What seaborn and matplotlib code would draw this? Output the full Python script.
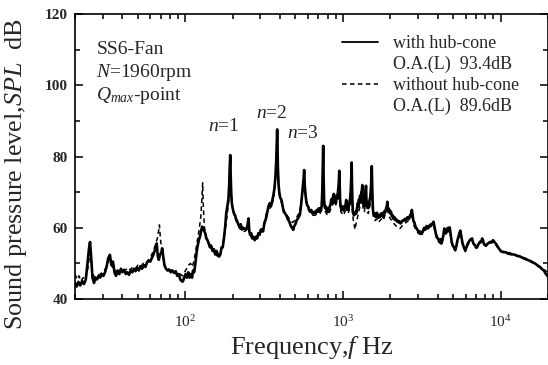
import numpy as np
import pandas as pd
import matplotlib
matplotlib.use("Agg")
import matplotlib.pyplot as plt
import seaborn as sns
from matplotlib.lines import Line2D
from matplotlib.ticker import LogLocator, MultipleLocator, NullFormatter

# ---------------- data ----------------
freq_with = [20, 20.5, 21, 21.6, 22.2, 22.8, 23.4, 24.0, 24.5, 24.9, 25.3, 25.8, 26.4, 27.0, 27.6, 28.2,
             28.9, 29.6, 30.3, 31.0, 31.7, 32.5, 33.3, 34.0, 34.8, 35.6, 36.4, 37.3, 38.2, 39.1, 40.0,
             41.0, 42.0, 43.0, 44.0, 45.1, 46.2, 47.3, 48.4, 49.6, 50.8, 52.0, 53.3, 54.6, 55.9, 57.2,
             58.6, 60.0, 61.4, 62.9, 64.0, 65.0, 66.0, 67.0, 68.0, 69.2, 70.5, 71.5, 72.5, 73.8, 75.5,
             77.3, 79.2, 81.0, 83.0, 85.0, 87.0, 89.0, 91.0, 93.0, 95.0, 96.6, 98.5, 100.5, 102.5, 104.5,
             106.5, 108.5, 110.5, 112, 114, 116, 118, 120, 122, 124, 126, 128, 130, 132, 134, 136, 138.5,
             141, 143.5, 146, 149, 152, 155, 158, 161, 164, 167, 170, 173, 176, 179, 182, 185, 188, 190,
             191.5, 193, 194.5, 196, 198, 201, 204, 207, 210, 213, 217, 221, 225, 229, 233, 237, 241, 244,
             248, 252, 255, 258, 262, 266, 270, 276, 281, 286, 291, 296, 302, 307, 312, 317, 322, 327, 332,
             337, 344, 350, 356, 362, 368, 373, 378, 383, 387, 391, 395, 400, 408, 415, 422, 430, 438, 446,
             454, 461, 468, 476, 484, 492, 500, 508, 516, 525, 534, 542, 550, 558, 564, 568, 573, 580, 588,
             596, 603, 612, 621, 630, 640, 649, 660, 672, 684, 695, 705, 715, 725, 733, 740, 745, 750, 755,
             760, 766, 772, 780, 788, 796, 805, 815, 825, 835, 845, 855, 862, 869, 876, 884, 892, 900, 910,
             920, 930, 940, 945, 949, 954, 960, 967, 974, 982, 990, 1000, 1010, 1020, 1030, 1040, 1050,
             1060, 1070, 1080, 1090, 1100, 1110, 1120, 1130, 1137, 1143, 1150, 1158, 1167, 1176, 1186,
             1195, 1205, 1215, 1225, 1235, 1245, 1255, 1265, 1275, 1285, 1300, 1310, 1320, 1328, 1335,
             1345, 1355, 1365, 1375, 1385, 1395, 1402, 1410, 1420, 1430, 1440, 1450, 1460, 1470, 1480,
             1490, 1500, 1510, 1518, 1525, 1533, 1542, 1552, 1563, 1575, 1587, 1600, 1615, 1630, 1645,
             1660, 1680, 1700, 1720, 1740, 1760, 1780, 1800, 1820, 1840, 1860, 1880, 1900, 1914, 1928,
             1945, 1962, 1980, 2000, 2020, 2045, 2070, 2095, 2120, 2143, 2170, 2200, 2230, 2260, 2290,
             2320, 2350, 2390, 2430, 2470, 2510, 2550, 2590, 2630, 2670, 2710, 2740, 2770, 2800, 2840,
             2880, 2920, 2960, 3020, 3070, 3120, 3170, 3220, 3280, 3340, 3400, 3460, 3520, 3580, 3640,
             3700, 3758, 3820, 3880, 3940, 4000, 4045, 4100, 4160, 4220, 4280, 4340, 4397, 4460, 4520,
             4580, 4640, 4700, 4760, 4830, 4900, 4980, 5060, 5170, 5250, 5330, 5410, 5480, 5560, 5640,
             5720, 5800, 5890, 5980, 6080, 6180, 6280, 6380, 6480, 6600, 6700, 6820, 6920, 7020, 7100,
             7220, 7340, 7460, 7560, 7640, 7740, 7850, 7960, 8080, 8200, 8320, 8440, 8560, 8700, 8830,
             8960, 9060, 9200, 9350, 9500, 9650, 9820, 10000, 10200, 10500, 10800, 11100, 11400, 11700,
             12000, 12400, 12800, 13200, 13600, 14000, 14400, 14800, 15200, 15600, 16000, 16500, 17000,
             17500, 18000, 18400, 18800, 19200, 19600, 20000]
spl_with = [44.5, 43.5, 44.8, 43.8, 45, 44.2, 45.5, 50, 54, 56, 52, 46, 44.5, 46, 45.5, 46.5,
            46, 47, 46.5, 47.5, 49, 51.5, 52.4, 49.5, 50.5, 47.5, 46.5, 48, 47, 48.5, 47.5,
            48.2, 47, 47.5, 46.8, 48, 47.5, 48.5, 47.8, 48.8, 48, 49.2, 48.5, 49.5, 49, 50.2,
            50.8, 50.5, 51.5, 52.5, 53.5, 54.5, 55.6, 52, 51, 52.5, 53, 54.2, 52, 49.5, 48.5,
            48, 48.2, 47.5, 48, 47.3, 47.8, 46.5, 47, 45.5, 45, 44.9, 46, 47, 46, 47.5,
            46, 47, 46, 48, 47.5, 50, 53, 55, 56.5, 57.5, 59, 60.3, 60, 59, 58.5, 57, 56.5,
            55.6, 54.5, 55, 53.5, 54, 52.5, 53.5, 52.5, 51.9, 52.5, 54.5, 54.5, 57, 60, 64, 66, 68, 72,
            77, 80.4, 74, 69, 66.5, 65, 64, 63.5, 62.5, 62, 61, 60.3, 61, 59.5, 60, 59.8, 59.5, 59.5,
            60.5, 62.6, 59, 58, 58.5, 57, 57.5, 56.5, 57.5, 57, 58.5, 58, 59.5, 59, 59, 61, 62, 63, 64.5,
            66, 66.9, 66, 67.5, 69, 71, 74, 79, 87.6, 77, 72, 70, 68.5, 67.8, 66, 64.5, 64, 63.5, 62.5,
            62, 61.2, 60.5, 60, 59.4, 60.5, 61, 62, 62.5, 63, 63.7, 66, 69, 72, 74, 76.2, 72, 69, 67,
            66.2, 65.9, 65, 64.5, 65, 64, 64, 64.5, 64, 65, 64.5, 65.5, 64.5, 65, 66, 70, 76, 83, 74,
            68, 66, 65.5, 66, 65, 64.5, 65.5, 64.5, 66, 66.5, 68, 67, 68.5, 68.7, 69.5, 68, 67, 68, 69,
            68, 70, 72, 74, 76, 72, 68, 66, 65.5, 65, 66, 65.5, 64.8, 66, 65.5, 66.5, 67.8,
            66, 65.5, 65, 66, 67, 68, 70, 74, 78.3, 72, 67, 64.5, 64, 63.5, 64,
            63.8, 64.5, 64, 65, 66, 67, 66, 68, 67, 69, 68, 70, 70.5, 72, 69,
            67, 68, 66, 67, 69, 70.5, 71.8, 68, 66, 67, 66, 65.5, 66, 67, 68,
            68.5, 70, 72, 75, 77.3, 73, 68, 65, 64, 63.5, 64, 64, 63, 63.5, 64.2,
            63.5, 62.8, 63.5, 63, 64, 63.5, 64, 63, 64.5, 64, 64.5, 65.5, 66, 67.3, 65,
            65.5, 64.5, 65, 64, 64.5, 63.2, 63.5, 62.5, 63, 62.2, 62.5, 61.8, 62, 61.5, 61.8,
            61.2, 61.5, 62, 62, 62.5, 62, 62.8, 63, 62.5, 63.5, 64, 65, 63.5, 62, 61.5,
            60.5, 60, 59.5, 58.9, 59, 58.5, 58.3, 59.2, 60, 59.5, 60.5, 59.8, 60.5, 60.8, 61,
            61.2, 61.7, 60, 58.5, 57.5, 57, 56.6, 56, 56.8, 55.6, 56.5, 58, 59.8, 59, 58.5,
            59.5, 60, 59, 60.1, 58, 56, 55, 54.5, 53.8, 55, 56.5, 57.5, 58.5, 59.2, 57.5,
            56, 55, 54.2, 53.6, 54.5, 55.5, 56, 56.5, 56.8, 57, 55.8, 55.2, 55, 54.5, 54.5,
            55.3, 55.8, 56.2, 56, 57, 56.5, 55.5, 55.2, 55, 55.3, 55.6, 55.8, 56, 56, 56.1,
            56.5, 56.3, 55.8, 55.5, 55, 54.5, 54, 53.6, 53.3, 53.2, 53.1, 52.8, 52.9, 52.6,
            52.5, 52.4, 52.1, 52, 51.7, 51.5, 51.3, 51, 50.8, 50.6, 50.3, 50, 49.6,
            49.2, 48.8, 48.3, 48.1, 47.3, 46.8, 46.3]

freq_without = [20, 20.6, 21.2, 21.8, 22.5, 23.2, 24.0, 24.9, 25.8, 26.8, 27.8, 28.9, 30.0, 31.2, 32.4,
                33.3, 34.5, 35.8, 37.2, 38.6, 40.0, 41.6, 43.2, 44.8, 46.5, 48.3, 50.2, 52.1, 54.1, 56.2,
                58.4, 60.6, 62.9, 65.0, 66.5, 67.7, 68.6, 69.6, 70.8, 72.0, 73.5, 75.5, 78, 81, 84, 87,
                90, 93, 96, 99, 102, 105, 108, 111, 114, 117, 120, 123, 125.5, 127.5, 129, 130.5, 132.5,
                135, 138, 142, 146, 150, 155, 160, 165, 170, 175, 180, 185, 189, 193, 196, 200, 206, 212,
                220, 230, 240, 248, 252, 256, 265, 275, 285, 295, 305, 315, 325, 335, 345, 355, 365, 375,
                383, 388, 395, 405, 420, 435, 450, 465, 480, 495, 510, 525, 540, 555, 568, 578, 590, 605,
                625, 645, 665, 690, 715, 735, 750, 760, 775, 800, 825, 850, 870, 895, 920, 940, 949, 958,
                970, 990, 1010, 1030, 1050, 1070, 1090, 1110, 1137, 1150, 1170, 1195, 1215, 1240, 1265,
                1290, 1310, 1328, 1345, 1370, 1385, 1402, 1420, 1450, 1480, 1505, 1525, 1545, 1570, 1600,
                1640, 1680, 1720, 1760, 1800, 1850, 1890, 1914, 1950, 2000, 2060, 2120, 2180, 2240, 2306,
                2370, 2440, 2520, 2600, 2680, 2740, 2800, 2900, 3000, 3120, 3240, 3380, 3520, 3650, 3758,
                3900, 4045, 4200, 4300, 4397, 4520, 4640, 4760, 4900, 5060, 5170, 5330, 5480, 5560, 5720,
                5890, 5980, 6180, 6380, 6600, 6820, 7020, 7220, 7460, 7640, 7850, 8080, 8320, 8560, 8830,
                9060, 9350, 9650, 10000, 10500, 11100, 11700, 12400, 13200, 14000, 14800, 15600, 16500,
                17500, 18400, 19200, 20000]
spl_without = [47, 45.5, 46.5, 45, 46, 45.5, 48, 53, 47, 46, 46.5, 47, 47.5, 48.5, 50.5,
               51, 49, 47.5, 48.5, 47.5, 48.5, 48, 48.8, 48.2, 49, 48.6, 49.5, 49, 50, 49.8,
               51, 52, 53.5, 55.5, 57, 59, 60.8, 57, 54, 53, 50, 48.5, 48.5, 48, 48.3, 47.5,
               46.5, 47, 46.5, 47.5, 48.5, 49.5, 50, 49, 51, 54, 57, 60, 63, 68, 72.6, 65, 60,
               58, 56.5, 55, 54.5, 53.5, 52.8, 52, 52.5, 54, 56.5, 60, 64, 68, 79, 70, 65, 63, 61.5,
               60, 59, 59, 60, 61.5, 58.5, 57, 56.8, 57.5, 58.5, 59.5, 61, 63.5, 65.5, 65.5, 66.5, 68.5, 75,
               86, 75, 69.5, 67.5, 65, 64, 63, 62, 61.5, 62, 63, 64, 66, 70, 74, 70, 66.5, 65,
               64, 63.5, 63.5, 64, 64, 65, 81, 67, 64.5, 63.5, 64.5, 66, 67, 66, 67.5, 71, 74.5, 67,
               64.5, 64, 63.5, 64.5, 66, 64, 64.5, 66, 77, 64, 61.5, 59.5, 61.5, 63, 65,
               66, 67, 70, 65, 64.5, 67, 70, 64.5, 64, 66, 68, 75, 65, 62.5, 62,
               62.5, 61.5, 62, 62.5, 62, 63.5, 64.5, 66, 63.5, 62.5, 62, 61, 60.5, 60, 59.8,
               60.5, 61, 61.5, 62, 62.5, 64, 61, 59.5, 58.5, 58, 59, 59.8, 60, 60.5, 61,
               57.5, 56, 55.5, 56.5, 59, 58, 59.5, 59.5, 55.5, 54, 53.5, 56, 58, 58.8, 55.5,
               54, 53.3, 55, 56, 56.5, 54.8, 54.2, 55, 55.8, 56.5, 55.2, 54.8, 55.3, 55.7, 55.8,
               56, 55.2, 54.2, 53.3, 53, 52.6, 52.4, 52.2, 51.8, 51.3, 50.8, 50.4, 49.8,
               49, 48.5, 48, 47.5]

legend_labels = ["with hub-cone", "O.A.(L)  93.4dB", "without hub-cone", "O.A.(L)  89.6dB"]
info_lines = ["SS6-Fan", "$N$=1960rpm", "$Q_{max}$-point"]
harmonic_labels = ["$n$=1", "$n$=2", "$n$=3"]
y_ticks = [40, 60, 80, 100, 120]
x_limits = (20, 20000)

df_with = pd.DataFrame({"f": freq_with, "spl": spl_with})
df_without = pd.DataFrame({"f": freq_without, "spl": spl_without})

# ---------------- style ----------------
sns.set_theme(style="ticks")
plt.rcParams["font.family"] = ["Liberation Serif", "DejaVu Serif"]
plt.rcParams["mathtext.fontset"] = "custom"
plt.rcParams["mathtext.rm"] = "Liberation Serif"
plt.rcParams["mathtext.it"] = "Liberation Serif:italic"
plt.rcParams["mathtext.bf"] = "Liberation Serif:bold"

fig = plt.figure(figsize=(5.48, 3.65), dpi=100)
ax = fig.add_axes([0.1369, 0.1808, 0.8631, 0.7808])

sns.lineplot(data=df_without, x="f", y="spl", ax=ax, color="black", lw=1.1,
             estimator=None, sort=True, dashes=False)
ax.lines[-1].set_dashes([3.0, 2.2])
sns.lineplot(data=df_with, x="f", y="spl", ax=ax, color="black", lw=1.9,
             estimator=None, sort=True)

ax.set_xscale("log")
ax.set_xlim(*x_limits)
ax.set_ylim(40, 120)
ax.set_yticks(y_ticks)
ax.yaxis.set_minor_locator(MultipleLocator(10))
ax.xaxis.set_major_locator(LogLocator(base=10))
ax.xaxis.set_minor_locator(LogLocator(base=10, subs=np.arange(2, 10)))
ax.xaxis.set_minor_formatter(NullFormatter())

ax.tick_params(which="both", direction="in", top=True, right=True, color="black", width=1.1)
ax.tick_params(which="major", length=6)
ax.tick_params(which="minor", length=3.5)
ax.tick_params(axis="y", labelsize=11, pad=5)
ax.tick_params(axis="x", labelsize=11, pad=11)
for lab in ax.get_yticklabels():
    lab.set_fontweight("bold")
for sp in ax.spines.values():
    sp.set_linewidth(1.2)
    sp.set_color("black")

ax.set_xlabel("Frequency,$f$ Hz", fontsize=19, labelpad=3)
ax.set_ylabel("Sound pressure level,$SPL$  dB", fontsize=18.8)
ax.yaxis.set_label_coords(-0.098, 0.44)

# info text
for txt, yy in zip(info_lines, [0.877, 0.796, 0.714]):
    ax.text(0.045, yy, txt, transform=ax.transAxes, fontsize=14, ha="left", va="center")

for txt, (xx, yy) in zip(harmonic_labels, [(0.315, 0.605), (0.416, 0.652), (0.482, 0.582)]):
    ax.text(xx, yy, txt, transform=ax.transAxes, fontsize=14, ha="center", va="center")

handles = [Line2D([], [], color="black", lw=1.3),
           Line2D([], [], color="none"),
           Line2D([], [], color="black", lw=1.1, dashes=[3.0, 2.2]),
           Line2D([], [], color="none")]
ax.legend(handles, legend_labels, loc="upper left", bbox_to_anchor=(0.564, 0.925),
          frameon=False, fontsize=13, handlelength=2.0, handletextpad=0.85,
          labelspacing=0.2, borderpad=0, borderaxespad=0)

fig.savefig("out.png", dpi=100)
